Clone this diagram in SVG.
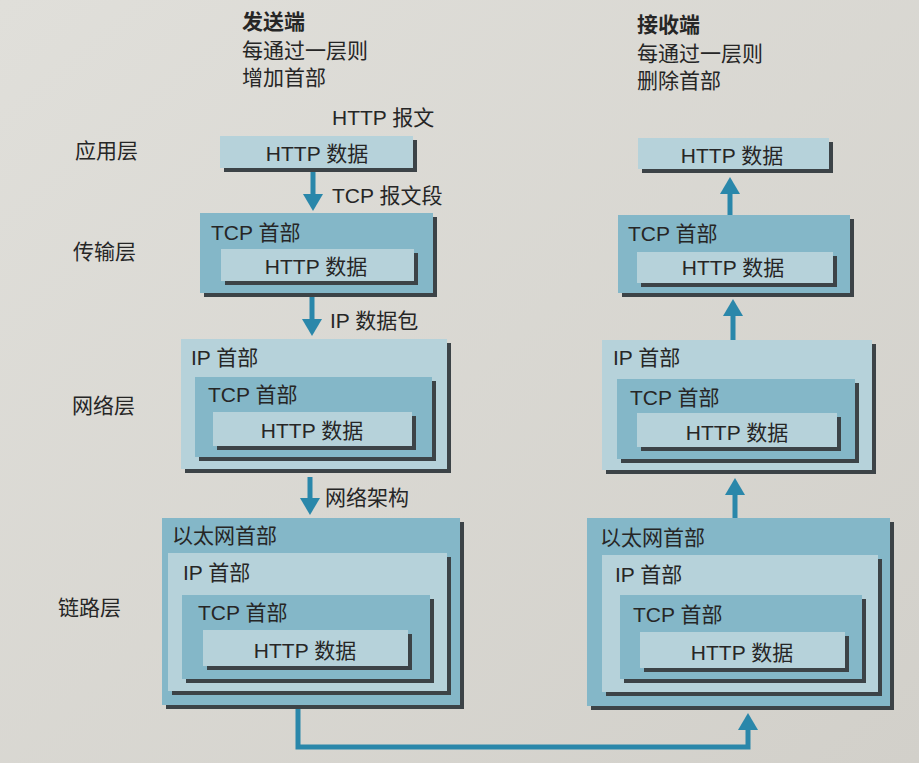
<svg xmlns="http://www.w3.org/2000/svg" width="919" height="763" viewBox="0 0 919 763">
<defs>
<linearGradient id="bg" x1="0" y1="0" x2="1" y2="1">
<stop offset="0" stop-color="#e0dfda"/>
<stop offset="1" stop-color="#d2d0ca"/>
</linearGradient>
<marker id="ahd" viewBox="0 0 17 20" refX="8" refY="10" markerWidth="17" markerHeight="20" markerUnits="userSpaceOnUse" orient="auto">
<path d="M0,0 L17,10 L0,20 Z" fill="#2a87aa"/>
</marker>
</defs>
<style>
text{font-family:"Liberation Sans","Noto Sans CJK SC",sans-serif;font-size:21px;fill:#262626}
.b{font-weight:bold}
.c{text-anchor:middle}
.lt{fill:#b6d2da}
.md{fill:#84b7c8}
.sh{fill:#3c4347}
.ar{fill:none;stroke:#2a87aa;stroke-width:5;marker-end:url(#ahd)}
</style>
<rect width="919" height="763" fill="url(#bg)"/>

<g id="captions">
<text x="242" y="29" class="b">发送端</text>
<text x="242" y="58">每通过一层则</text>
<text x="242" y="85">增加首部</text>
<text x="332" y="125">HTTP 报文</text>
<text x="637" y="32" class="b">接收端</text>
<text x="637" y="61">每通过一层则</text>
<text x="637" y="88">删除首部</text>
</g>

<g id="layer-labels">
<text x="75" y="158">应用层</text>
<text x="73" y="259">传输层</text>
<text x="72" y="413">网络层</text>
<text x="58" y="615">链路层</text>
</g>

<g id="send-app">
<rect class="sh" x="224" y="140" width="193" height="32"/>
<rect class="lt" x="220" y="136" width="193" height="32"/>
<text class="c" x="317" y="161">HTTP 数据</text>
</g>

<g id="send-transport">
<rect class="sh" x="204" y="217" width="233" height="80"/>
<rect class="md" x="200" y="213" width="233" height="80"/>
<text x="211" y="240">TCP 首部</text>
<rect class="sh" x="225" y="253" width="193" height="32"/>
<rect class="lt" x="221" y="249" width="193" height="32"/>
<text class="c" x="316" y="274">HTTP 数据</text>
</g>

<g id="send-network">
<rect class="sh" x="185" y="343" width="266" height="130"/>
<rect class="lt" x="181" y="339" width="266" height="130"/>
<text x="191" y="365">IP 首部</text>
<rect class="sh" x="199" y="381" width="237" height="80"/>
<rect class="md" x="195" y="377" width="237" height="80"/>
<text x="208" y="402">TCP 首部</text>
<rect class="sh" x="217" y="416" width="199" height="34"/>
<rect class="lt" x="213" y="412" width="199" height="34"/>
<text class="c" x="312" y="438">HTTP 数据</text>
</g>

<g id="send-link">
<rect class="sh" x="166" y="522" width="298" height="187"/>
<rect class="md" x="162" y="518" width="298" height="187"/>
<text x="172" y="543">以太网首部</text>
<rect class="sh" x="172" y="557" width="279" height="138"/>
<rect class="lt" x="168" y="553" width="279" height="138"/>
<text x="183" y="580">IP 首部</text>
<rect class="sh" x="186" y="599" width="248" height="84"/>
<rect class="md" x="182" y="595" width="248" height="84"/>
<text x="198" y="620">TCP 首部</text>
<rect class="sh" x="207" y="634" width="205" height="36"/>
<rect class="lt" x="203" y="630" width="205" height="36"/>
<text class="c" x="305" y="658">HTTP 数据</text>
</g>

<g id="recv-app">
<rect class="sh" x="642" y="142" width="191" height="31"/>
<rect class="lt" x="638" y="138" width="191" height="31"/>
<text class="c" x="732" y="163">HTTP 数据</text>
</g>

<g id="recv-transport">
<rect class="sh" x="622" y="219" width="232" height="78"/>
<rect class="md" x="618" y="215" width="232" height="78"/>
<text x="628" y="241">TCP 首部</text>
<rect class="sh" x="641" y="256" width="196" height="31"/>
<rect class="lt" x="637" y="252" width="196" height="31"/>
<text class="c" x="733" y="275">HTTP 数据</text>
</g>

<g id="recv-network">
<rect class="sh" x="606" y="344" width="270" height="130"/>
<rect class="lt" x="602" y="340" width="270" height="130"/>
<text x="613" y="365">IP 首部</text>
<rect class="sh" x="621" y="383" width="238" height="80"/>
<rect class="md" x="617" y="379" width="238" height="80"/>
<text x="630" y="405">TCP 首部</text>
<rect class="sh" x="641" y="417" width="200" height="34"/>
<rect class="lt" x="637" y="413" width="200" height="34"/>
<text class="c" x="737" y="440">HTTP 数据</text>
</g>

<g id="recv-link">
<rect class="sh" x="591" y="522" width="303" height="188"/>
<rect class="md" x="587" y="518" width="303" height="188"/>
<text x="600" y="545">以太网首部</text>
<rect class="sh" x="606" y="559" width="276" height="137"/>
<rect class="lt" x="602" y="555" width="276" height="137"/>
<text x="615" y="582">IP 首部</text>
<rect class="sh" x="624" y="599" width="242" height="84"/>
<rect class="md" x="620" y="595" width="242" height="84"/>
<text x="633" y="622">TCP 首部</text>
<rect class="sh" x="644" y="636" width="205" height="36"/>
<rect class="lt" x="640" y="632" width="205" height="36"/>
<text class="c" x="742" y="660">HTTP 数据</text>
</g>

<g id="connectors">
<path class="ar" d="M313,172 V202"/>
<path class="ar" d="M312,297 V327"/>
<path class="ar" d="M310,477 V506"/>
<path class="ar" d="M298,709 V747 H748 V722"/>
<path class="ar" d="M735,518 V487"/>
<path class="ar" d="M733,340 V308"/>
<path class="ar" d="M730,215 V186"/>
<text x="332" y="203">TCP 报文段</text>
<text x="330" y="328">IP 数据包</text>
<text x="325" y="505">网络架构</text>
</g>
</svg>
